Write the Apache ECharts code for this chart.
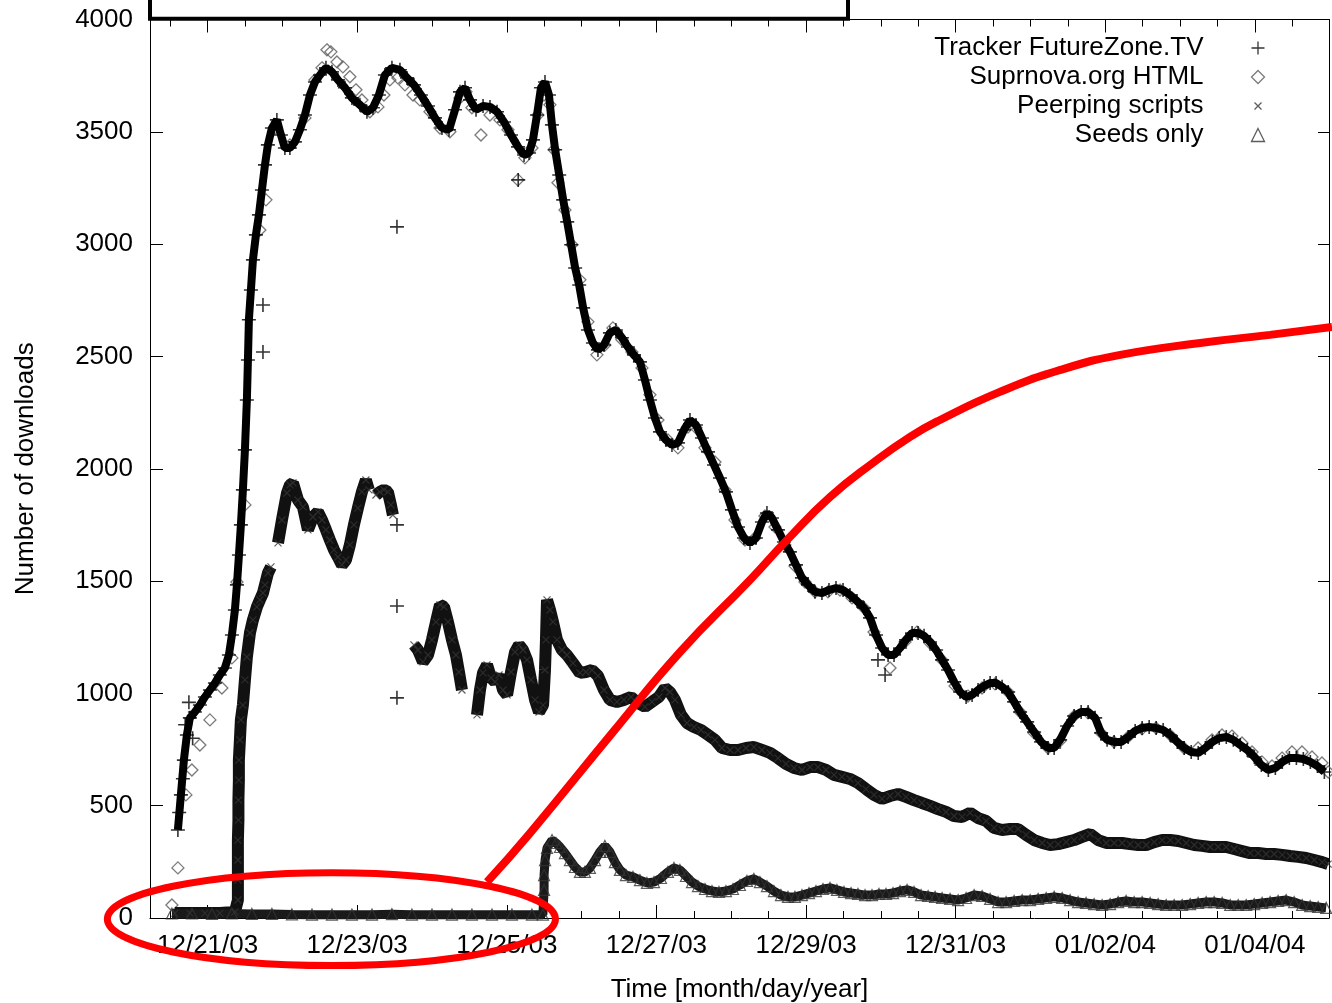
<!DOCTYPE html>
<html>
<head>
<meta charset="utf-8">
<script src="https://cdn.jsdelivr.net/npm/echarts@6.0.0/dist/echarts.min.js"></script>
<style>
  html, body { margin: 0; padding: 0; background: #fff; }
  #chart { width: 1332px; height: 1003px; }
</style>
</head>
<body>
<div id="chart"></div>
<script>
// x values are days counted from 12/21/03 00:00
const xMin = -0.77
const xMax = 14.99
const xTickDays = [0, 2, 4, 6, 8, 10, 12, 14]
const xTickLabels = ['12/21/03', '12/23/03', '12/25/03', '12/27/03', '12/29/03', '12/31/03', '01/02/04', '01/04/04']
const xMinorDays = [-0.5, 0.5, 1, 1.5, 2.5, 3, 3.5, 4.5, 5, 5.5, 6.5, 7, 7.5, 8.5, 9, 9.5, 10.5, 11, 11.5, 12.5, 13, 13.5, 14.5]

const seriesNames = ['Tracker FutureZone.TV', 'Suprnova.org HTML', 'Peerping scripts', 'Seeds only']

const trackerBand = [
  [-0.397, 392], [-0.357, 548], [-0.317, 703], [-0.277, 815], [-0.237, 891], [-0.170, 917], [-0.103, 948], [-0.036, 984],
  [0.031, 1015], [0.098, 1046], [0.164, 1082], [0.231, 1113], [0.285, 1171], [0.325, 1260], [0.365, 1371], [0.392, 1483],
  [0.419, 1616], [0.445, 1750], [0.472, 1906], [0.499, 2084], [0.525, 2306], [0.539, 2484], [0.552, 2663], [0.579, 2796],
  [0.606, 2930], [0.646, 3041], [0.686, 3130], [0.726, 3241], [0.767, 3353], [0.806, 3442], [0.860, 3517], [0.926, 3553],
  [0.980, 3486], [1.033, 3428], [1.100, 3428], [1.167, 3455], [1.234, 3509], [1.301, 3575], [1.368, 3664], [1.435, 3722],
  [1.502, 3753], [1.582, 3785], [1.662, 3767], [1.742, 3731], [1.836, 3696], [1.929, 3651], [2.036, 3620], [2.130, 3589],
  [2.210, 3607], [2.290, 3664], [2.370, 3753], [2.464, 3785], [2.571, 3776], [2.665, 3740], [2.758, 3709], [2.852, 3664],
  [2.946, 3615], [3.039, 3562], [3.133, 3517], [3.227, 3509], [3.307, 3598], [3.374, 3678], [3.441, 3696], [3.508, 3642],
  [3.588, 3598], [3.682, 3615], [3.775, 3611], [3.869, 3589], [3.962, 3544], [4.056, 3486], [4.150, 3433], [4.230, 3397],
  [4.297, 3406], [4.349, 3464], [4.403, 3575], [4.456, 3696], [4.510, 3722], [4.563, 3664], [4.603, 3531], [4.646, 3420],
  [4.700, 3308], [4.753, 3197], [4.807, 3099], [4.860, 2997], [4.913, 2894], [4.967, 2818], [5.020, 2716], [5.084, 2618],
  [5.151, 2560], [5.218, 2529], [5.298, 2551], [5.378, 2605], [5.458, 2618], [5.538, 2583], [5.619, 2542], [5.699, 2507],
  [5.779, 2476], [5.846, 2395], [5.913, 2306], [5.980, 2226], [6.047, 2164], [6.127, 2128], [6.207, 2106], [6.287, 2115],
  [6.368, 2173], [6.448, 2217], [6.528, 2195], [6.608, 2137], [6.689, 2075], [6.769, 2017], [6.849, 1959], [6.929, 1897],
  [7.009, 1817], [7.090, 1741], [7.170, 1692], [7.250, 1670], [7.330, 1692], [7.410, 1763], [7.477, 1803], [7.544, 1781],
  [7.624, 1728], [7.704, 1674], [7.784, 1630], [7.865, 1572], [7.945, 1514], [8.025, 1483], [8.119, 1452], [8.212, 1447],
  [8.306, 1460], [8.400, 1469], [8.494, 1460], [8.587, 1438], [8.681, 1411], [8.775, 1380], [8.855, 1336], [8.935, 1260],
  [9.016, 1202], [9.096, 1171], [9.176, 1171], [9.256, 1202], [9.336, 1238], [9.417, 1269], [9.497, 1269], [9.577, 1256],
  [9.657, 1229], [9.738, 1193], [9.818, 1149], [9.898, 1104], [9.979, 1051], [10.059, 1006], [10.139, 984], [10.219, 993],
  [10.299, 1015], [10.380, 1033], [10.460, 1046], [10.540, 1046], [10.620, 1029], [10.701, 1006], [10.781, 962], [10.861, 917],
  [10.955, 873], [11.048, 828], [11.142, 784], [11.235, 757], [11.316, 757], [11.396, 793], [11.489, 855], [11.583, 899],
  [11.677, 917], [11.770, 917], [11.864, 891], [11.944, 824], [12.024, 793], [12.118, 784], [12.211, 784], [12.305, 806],
  [12.399, 833], [12.492, 846], [12.586, 850], [12.680, 846], [12.773, 837], [12.867, 815], [12.961, 784], [13.055, 757],
  [13.148, 739], [13.242, 735], [13.336, 757], [13.430, 784], [13.523, 801], [13.617, 806], [13.711, 793], [13.804, 770],
  [13.898, 748], [13.992, 717], [14.086, 681], [14.179, 659], [14.273, 668], [14.366, 695], [14.460, 712], [14.554, 712],
  [14.647, 708], [14.741, 695], [14.835, 677], [14.928, 650]
]

const trackerOutliers = [
  [2.531, 3077], [2.531, 1750], [2.531, 1389], [2.531, 980], [0.740, 2729], [0.740, 2520],
  [4.152, 3286], [8.961, 1149], [9.056, 1082],
  [-0.380, 470], [-0.330, 620], [-0.300, 860], [-0.250, 960], [-0.200, 800]
]

const suprnova = [
  [-0.477, 58], [-0.397, 223], [-0.290, 548], [-0.210, 659], [-0.103, 770], [0.031, 882], [0.191, 1024], [0.325, 1158],
  [0.392, 1496], [0.499, 1839], [0.699, 3063], [0.780, 3197], [0.900, 3517], [1.100, 3442], [1.301, 3562], [1.435, 3731],
  [1.529, 3785], [1.595, 3865], [1.648, 3856], [1.729, 3811], [1.809, 3789], [1.902, 3745], [1.983, 3687], [2.063, 3642],
  [2.170, 3589], [2.277, 3611], [2.357, 3664], [2.437, 3731], [2.544, 3740], [2.638, 3709], [2.745, 3664], [2.838, 3642],
  [2.972, 3589], [3.106, 3517], [3.239, 3500], [3.373, 3651], [3.453, 3678], [3.533, 3607], [3.654, 3486], [3.774, 3575],
  [3.908, 3553], [4.015, 3509], [4.148, 3286], [4.242, 3384], [4.336, 3428], [4.416, 3575], [4.496, 3664], [4.576, 3620],
  [4.630, 3420], [4.683, 3273], [4.777, 3152], [4.870, 2997], [4.977, 2841], [5.084, 2654], [5.204, 2507], [5.311, 2551],
  [5.418, 2627], [5.538, 2574], [5.672, 2520], [5.806, 2449], [5.913, 2329], [6.020, 2217], [6.154, 2128], [6.287, 2093],
  [6.421, 2186], [6.528, 2182], [6.648, 2093], [6.782, 2030], [6.915, 1906], [7.049, 1772], [7.183, 1683], [7.316, 1692],
  [7.450, 1790], [7.584, 1741], [7.717, 1661], [7.851, 1567], [7.985, 1496], [8.119, 1452], [8.293, 1452], [8.453, 1460],
  [8.614, 1425], [8.774, 1380], [8.908, 1273], [9.122, 1113], [9.322, 1229], [9.482, 1273], [9.656, 1224], [9.817, 1149],
  [9.991, 1033], [10.164, 988], [10.352, 1024], [10.525, 1042], [10.699, 1006], [10.860, 917], [11.047, 824], [11.234, 757],
  [11.394, 788], [11.582, 899], [11.769, 913], [11.943, 824], [12.116, 784], [12.304, 806], [12.491, 842], [12.678, 846],
  [12.865, 815], [13.052, 757], [13.240, 757], [13.427, 793], [13.560, 815], [13.693, 810], [13.827, 779], [13.961, 739],
  [14.094, 695], [14.228, 677], [14.362, 712], [14.495, 739], [14.629, 739], [14.763, 717], [14.896, 690], [14.980, 650]
]

// null values break the band where the scripts had no data
const peerping = [
  [-0.437, 22], [-0.237, 22], [-0.036, 22], [0.164, 22], [0.365, 27], [0.405, 80], [0.405, 169], [0.405, 258],
  [0.405, 347], [0.412, 436], [0.412, 525], [0.418, 614], [0.418, 703], [0.432, 793], [0.445, 882], [0.472, 948],
  [0.499, 1060], [0.525, 1162], [0.566, 1269], [0.606, 1327], [0.659, 1385], [0.699, 1416], [0.740, 1447], [0.767, 1483],
  [0.807, 1536], [0.847, 1563],
  [0.9, null],
  [0.941, 1670], [0.994, 1772], [1.061, 1892], [1.101, 1928], [1.141, 1937], [1.208, 1861], [1.275, 1830], [1.341, 1728],
  [1.408, 1785], [1.475, 1808], [1.529, 1772], [1.582, 1728], [1.635, 1683], [1.689, 1639], [1.742, 1607], [1.796, 1572],
  [1.849, 1594], [1.902, 1661], [1.956, 1750], [2.009, 1825], [2.063, 1897], [2.116, 1950], [2.156, 1906],
  [2.2, null],
  [2.250, 1883], [2.303, 1897], [2.357, 1906], [2.410, 1897], [2.450, 1839], [2.477, 1794],
  [2.6, null],
  [2.758, 1216], [2.812, 1193], [2.879, 1140], [2.946, 1171], [2.999, 1238], [3.053, 1318], [3.106, 1394], [3.160, 1385],
  [3.213, 1318], [3.267, 1238], [3.320, 1171], [3.360, 1095], [3.400, 1015],
  [3.5, null],
  [3.601, 904], [3.641, 1015], [3.681, 1091], [3.735, 1127], [3.789, 1069], [3.842, 1051], [3.896, 1082], [3.949, 1015],
  [4.003, 993], [4.056, 1095], [4.110, 1184], [4.163, 1216], [4.216, 1193], [4.270, 1149], [4.323, 1060], [4.377, 971],
  [4.430, 917], [4.484, 948], [4.510, 1104], [4.523, 1238], [4.537, 1416], [4.577, 1371], [4.617, 1318], [4.670, 1238],
  [4.737, 1193], [4.804, 1171], [4.884, 1135], [4.977, 1091], [5.057, 1095], [5.138, 1104], [5.218, 1078], [5.298, 1015],
  [5.378, 971], [5.472, 962], [5.565, 971], [5.659, 984], [5.753, 957], [5.846, 940], [5.940, 962], [6.033, 984],
  [6.114, 1024], [6.180, 1006], [6.247, 971], [6.328, 904], [6.408, 868], [6.501, 850], [6.595, 837], [6.689, 815],
  [6.782, 793], [6.876, 757], [6.983, 748], [7.090, 748], [7.197, 757], [7.303, 761], [7.410, 748], [7.517, 735],
  [7.624, 712], [7.731, 686], [7.838, 668], [7.945, 659], [8.052, 672], [8.159, 672], [8.266, 659], [8.373, 637],
  [8.480, 628], [8.587, 619], [8.694, 601], [8.801, 574], [8.908, 548], [9.015, 530], [9.122, 543], [9.229, 552],
  [9.336, 539], [9.443, 525], [9.548, 512], [9.657, 499], [9.764, 485], [9.871, 472], [9.978, 454], [10.085, 450],
  [10.192, 468], [10.299, 445], [10.406, 432], [10.513, 401], [10.620, 392], [10.727, 396], [10.834, 396], [10.941, 370],
  [11.048, 347], [11.155, 334], [11.262, 325], [11.369, 329], [11.476, 338], [11.583, 347], [11.690, 361], [11.797, 374],
  [11.904, 347], [12.011, 334], [12.118, 334], [12.225, 334], [12.332, 329], [12.439, 325], [12.546, 325], [12.653, 338],
  [12.760, 347], [12.867, 347], [12.974, 343], [13.081, 334], [13.188, 325], [13.294, 321], [13.401, 316], [13.508, 316],
  [13.615, 316], [13.722, 307], [13.829, 298], [13.936, 289], [14.043, 289], [14.150, 285], [14.257, 285], [14.364, 281],
  [14.471, 276], [14.578, 272], [14.685, 267], [14.792, 258], [14.899, 249], [14.979, 240]
]

const seeds = [
  [-0.477, 20], [-0.209, 20], [0.058, 18], [0.325, 20], [0.592, 18], [0.860, 18], [1.127, 16], [1.395, 15],
  [1.662, 15], [1.929, 15], [2.197, 15], [2.464, 17], [2.731, 15], [2.999, 15], [3.266, 15], [3.533, 15],
  [3.801, 15], [4.068, 15], [4.335, 15], [4.482, 15],
  [4.498, 125], [4.498, 191], [4.511, 258], [4.537, 312], [4.604, 347], [4.657, 334], [4.711, 316], [4.777, 289],
  [4.844, 258], [4.911, 227], [4.977, 205], [5.044, 205], [5.111, 223], [5.178, 258], [5.244, 294], [5.311, 321],
  [5.378, 294], [5.445, 249], [5.512, 214], [5.592, 191], [5.686, 183], [5.779, 169], [5.873, 156], [5.967, 160],
  [6.060, 178], [6.154, 205], [6.234, 223], [6.314, 214], [6.394, 187], [6.475, 160], [6.555, 142], [6.649, 129],
  [6.742, 120], [6.836, 116], [6.929, 120], [7.023, 129], [7.116, 147], [7.210, 165], [7.303, 174], [7.383, 160],
  [7.477, 142], [7.570, 120], [7.664, 102], [7.758, 94], [7.851, 94], [7.945, 102], [8.039, 111], [8.132, 120],
  [8.226, 129], [8.320, 134], [8.413, 125], [8.507, 116], [8.601, 111], [8.694, 107], [8.788, 102], [8.881, 102],
  [8.975, 107], [9.069, 107], [9.162, 111], [9.256, 120], [9.350, 125], [9.443, 116], [9.537, 102], [9.631, 98],
  [9.724, 94], [9.818, 89], [9.925, 85], [10.032, 80], [10.139, 89], [10.246, 102], [10.353, 98], [10.460, 85],
  [10.567, 71], [10.674, 71], [10.781, 76], [10.888, 80], [10.995, 80], [11.102, 85], [11.209, 89], [11.316, 94],
  [11.423, 89], [11.529, 80], [11.636, 71], [11.743, 67], [11.850, 62], [11.957, 58], [12.064, 62], [12.171, 71],
  [12.278, 76], [12.385, 71], [12.492, 71], [12.599, 67], [12.706, 62], [12.813, 58], [12.920, 58], [13.027, 58],
  [13.134, 62], [13.241, 67], [13.348, 71], [13.455, 71], [13.562, 67], [13.669, 58], [13.776, 58], [13.883, 58],
  [13.990, 62], [14.096, 67], [14.203, 71], [14.310, 76], [14.417, 80], [14.524, 71], [14.631, 58], [14.738, 53],
  [14.845, 49], [14.952, 45]
]

// red hand-drawn annotation, in data units
const annoCurve = [
  [3.735, 160], [4.31, 378], [5.41, 824], [6.316, 1184], [7.25, 1505], [7.745, 1683], [8.32, 1874], [8.894, 2026],
  [9.39, 2142], [9.79, 2217], [10.59, 2342], [11.40, 2440], [12.20, 2507], [13.27, 2560], [14.20, 2596], [15.03, 2631]
]
// center day, center value, horizontal radius (days), vertical radius (downloads)
const annoEllipse = [[1.655, -5, 2.995, 207]]

const FONT = 'Liberation Sans, Arial, sans-serif'
const PLUS = 'path://M0,6L12,6M6,0L6,12'
const CROSS = 'path://M0,0L10,10M0,10L10,0'
const CROSS_SMALL = 'path://M-3,-3M0,0L7,7M0,7L7,0M10,10'

const textStyle = { fontFamily: FONT, fontSize: 26, color: '#000' }
const blackLine = { color: '#000', width: 1 }

const xAxisBase = {
  type: 'value',
  min: xMin,
  max: xMax,
  splitLine: { show: false },
}

const chart = echarts.init(document.getElementById('chart'))

chart.setOption({
  animation: false,
  backgroundColor: '#fff',
  grid: { left: 150, right: 3, top: 19.5, bottom: 85, containLabel: false, outerBoundsMode: 'none' },
  legend: {
    orient: 'vertical',
    align: 'right',
    right: 65,
    top: 35,
    padding: 0,
    itemGap: 3,
    itemWidth: 13,
    itemHeight: 13,
    selectedMode: false,
    itemStyle: { borderWidth: 1.3 },
    textStyle: { ...textStyle, padding: [0, 43, 0, 0] },
    data: [
      { name: seriesNames[0] },
      { name: seriesNames[1] },
      { name: seriesNames[2], icon: CROSS_SMALL },
      { name: seriesNames[3] },
    ],
  },
  xAxis: [
    {
      ...xAxisBase,
      position: 'bottom',
      name: 'Time [month/day/year]',
      nameLocation: 'middle',
      nameGap: 59,
      nameTextStyle: textStyle,
      axisLine: { show: true, onZero: false, lineStyle: blackLine },
      axisTick: { show: true, inside: true, length: 13, customValues: xTickDays, lineStyle: blackLine },
      axisLabel: {
        ...textStyle,
        margin: 15,
        customValues: xTickDays,
        formatter: (v) => xTickLabels[xTickDays.indexOf(v)],
      },
    },
    {
      ...xAxisBase,
      position: 'bottom',
      axisLine: { show: false, onZero: false },
      axisTick: { show: true, inside: true, length: 7, customValues: xMinorDays, lineStyle: blackLine },
      axisLabel: { show: false },
    },
    {
      ...xAxisBase,
      position: 'top',
      axisLine: { show: true, onZero: false, lineStyle: blackLine },
      axisTick: { show: true, inside: true, length: 13, customValues: xTickDays, lineStyle: blackLine },
      axisLabel: { show: false },
    },
    {
      ...xAxisBase,
      position: 'top',
      axisLine: { show: false, onZero: false },
      axisTick: { show: true, inside: true, length: 7, customValues: xMinorDays, lineStyle: blackLine },
      axisLabel: { show: false },
    },
  ],
  yAxis: [
    {
      type: 'value',
      position: 'left',
      min: 0,
      max: 4000,
      interval: 500,
      name: 'Number of downloads',
      nameLocation: 'middle',
      nameGap: 111,
      nameTextStyle: textStyle,
      axisLine: { show: true, onZero: false, lineStyle: blackLine },
      axisTick: { show: true, inside: true, length: 13, lineStyle: blackLine },
      axisLabel: { ...textStyle, margin: 17, formatter: (v) => String(v) },
      splitLine: { show: false },
    },
    {
      type: 'value',
      position: 'right',
      min: 0,
      max: 4000,
      interval: 500,
      axisLine: { show: true, onZero: false, lineStyle: blackLine },
      axisTick: { show: true, inside: true, length: 11, lineStyle: blackLine },
      axisLabel: { show: false },
      splitLine: { show: false },
    },
  ],
  series: [
    {
      name: seriesNames[0],
      type: 'scatter',
      data: trackerBand.concat(trackerOutliers),
      symbol: PLUS,
      symbolSize: 14,
      itemStyle: { color: 'none', borderColor: '#000', borderWidth: 1.6 },
      z: 4,
      silent: true,
    },
    {
      name: seriesNames[0],
      type: 'line',
      data: trackerBand,
      symbol: 'none',
      lineStyle: { color: '#000', width: 8 },
      z: 3,
      silent: true,
    },
    {
      name: seriesNames[1],
      type: 'scatter',
      data: suprnova,
      symbol: 'diamond',
      symbolSize: 12,
      itemStyle: { color: 'none', borderColor: '#5a5a5a', borderWidth: 1.3 },
      z: 2,
      silent: true,
    },
    {
      name: seriesNames[2],
      type: 'scatter',
      data: peerping,
      symbol: CROSS,
      symbolSize: 7,
      itemStyle: { color: 'none', borderColor: '#333', borderWidth: 1.2 },
      z: 4,
      silent: true,
    },
    {
      name: seriesNames[2],
      type: 'line',
      data: peerping,
      symbol: 'none',
      connectNulls: false,
      lineStyle: { color: '#111', width: 12 },
      z: 3,
      silent: true,
    },
    {
      name: seriesNames[3],
      type: 'scatter',
      data: seeds,
      symbol: 'triangle',
      symbolSize: 11,
      itemStyle: { color: 'none', borderColor: '#333', borderWidth: 1.2 },
      z: 4,
      silent: true,
    },
    {
      name: seriesNames[3],
      type: 'line',
      data: seeds,
      symbol: 'none',
      lineStyle: { color: '#1a1a1a', width: 9 },
      z: 3,
      silent: true,
    },
    {
      name: 'annotation curve',
      type: 'line',
      data: annoCurve,
      symbol: 'none',
      smooth: 0.5,
      clip: false,
      lineStyle: { color: '#ff0000', width: 8 },
      z: 10,
      silent: true,
    },
    {
      name: 'annotation ellipse',
      type: 'custom',
      data: annoEllipse,
      clip: false,
      encode: { x: 0, y: 1 },
      z: 10,
      silent: true,
      renderItem: (params, api) => {
        const c = api.coord([api.value(0), api.value(1)])
        const r = api.size([api.value(2), api.value(3)])
        return {
          type: 'ellipse',
          shape: { cx: c[0], cy: c[1], rx: r[0], ry: r[1] },
          style: { fill: 'none', stroke: '#ff0000', lineWidth: 7 },
        }
      },
    },
  ],
  graphic: [
    {
      type: 'rect',
      shape: { x: 150, y: -10, width: 698, height: 28.7 },
      style: { fill: '#fff', stroke: '#000', lineWidth: 4 },
      z: 20,
    },
  ],
})
</script>
</body>
</html>
